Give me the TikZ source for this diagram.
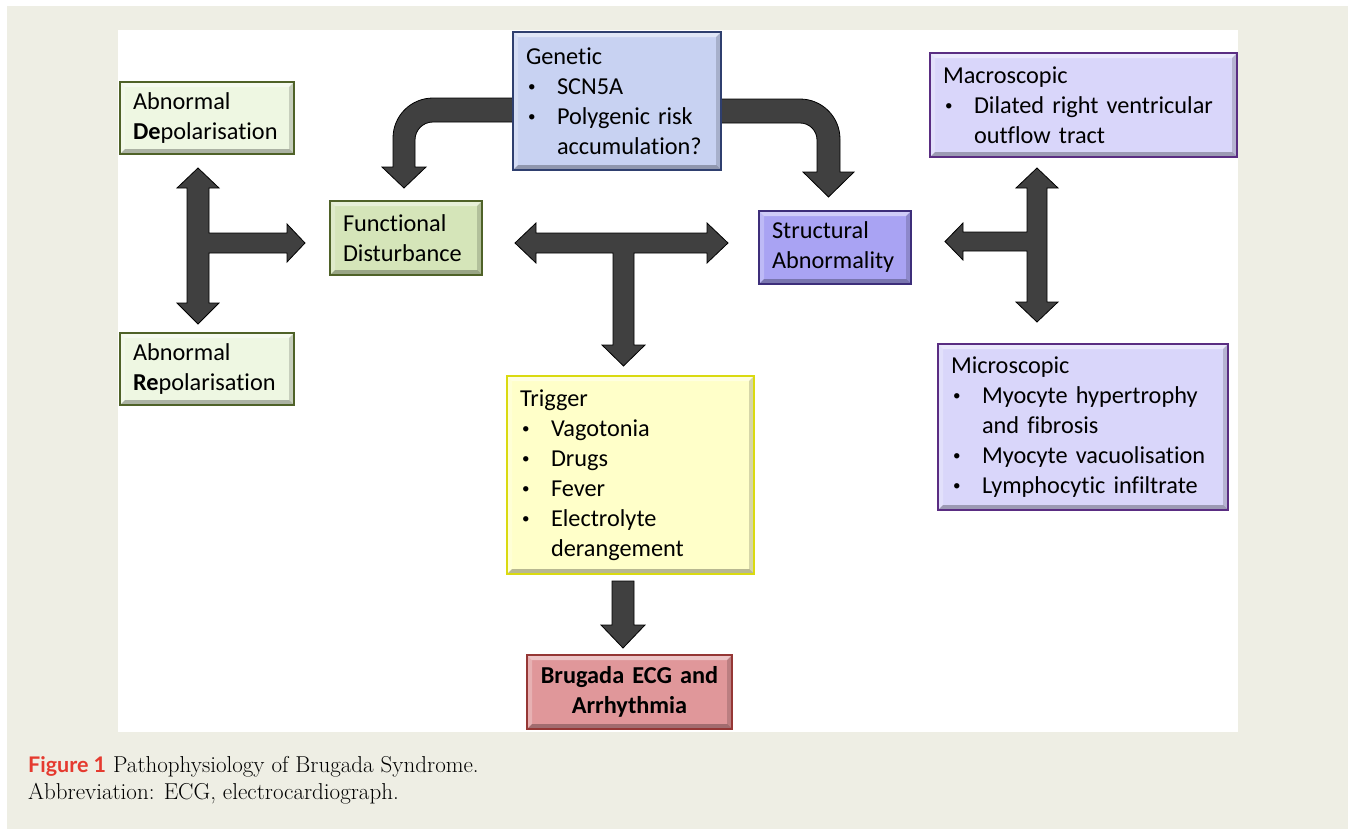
\documentclass[tikz,border=0pt]{standalone}
\usepackage{fontspec}
\newfontfamily\boxfont{Carlito}[Ligatures={NoCommon}]
\newfontfamily\figfont{Lato}
\usetikzlibrary{calc}
\definecolor{bgbeige}{HTML}{EEEEE4}
\definecolor{arrowgray}{HTML}{404040}
\definecolor{greenlt}{HTML}{EEF7E2}
\definecolor{greenmd}{HTML}{D5E5B9}
\definecolor{greenbd}{HTML}{4F6228}
\definecolor{bluelt}{HTML}{C8D2F2}
\definecolor{bluebd}{HTML}{2F3F6F}
\definecolor{purpmd}{HTML}{A9A3F3}
\definecolor{purpbd}{HTML}{3D2E7A}
\definecolor{purplt}{HTML}{D9D6FA}
\definecolor{purpbd2}{HTML}{5A2D82}
\definecolor{yellt}{HTML}{FFFFC9}
\definecolor{yelbd}{HTML}{DADA10}
\definecolor{redmd}{HTML}{E0979A}
\definecolor{redbd}{HTML}{953735}
\definecolor{figred}{HTML}{E53A2F}
\newcommand\smbul{\raisebox{3.2pt}{\scalebox{0.62}{•}}}
\newcommand\bitem[1]{\makebox[31pt][l]{\hspace{2pt}\smbul}#1}
\newcommand\bcont[1]{\hspace*{31pt}#1}
\tikzset{
  bevel/.style={path picture={
    \fill[white,opacity=.45] (path picture bounding box.north west) -- (path picture bounding box.north east)
      -- ([shift={(-5pt,-5pt)}]path picture bounding box.north east) -- ([shift={(5pt,-5pt)}]path picture bounding box.north west) -- cycle;
    \fill[white,opacity=.25] (path picture bounding box.north west) -- (path picture bounding box.south west)
      -- ([shift={(5pt,5pt)}]path picture bounding box.south west) -- ([shift={(5pt,-5pt)}]path picture bounding box.north west) -- cycle;
    \fill[black,opacity=.28] (path picture bounding box.south west) -- (path picture bounding box.south east)
      -- ([shift={(-5pt,5pt)}]path picture bounding box.south east) -- ([shift={(5pt,5pt)}]path picture bounding box.south west) -- cycle;
    \fill[black,opacity=.16] (path picture bounding box.north east) -- (path picture bounding box.south east)
      -- ([shift={(-5pt,5pt)}]path picture bounding box.south east) -- ([shift={(-5pt,-5pt)}]path picture bounding box.north east) -- cycle;
  }},
  cbox/.style={rectangle, line width=1.6pt, inner xsep=13pt, inner ysep=0pt, align=left,
    font=\boxfont\fontsize{24.3}{30}\selectfont, bevel},
  blk/.style={fill=arrowgray, draw=black, line width=0.8pt, line join=miter},
}
\begin{document}
\begin{tikzpicture}[x=1pt,y=-1pt]
\useasboundingbox (0,0) rectangle (1354,835);
\fill[white] (0,0) rectangle (1354,835);
\fill[bgbeige] (7,6) rectangle (1348,829);
\fill[white] (118,30) rectangle (1238,732);

% block arrows
\path[blk] (513,98) -- (433,98) .. controls (410.9,98) and (393,115.9) .. (393,138) -- (393,167) -- (382,167)
  -- (404,188) -- (426,167) -- (415,167) -- (415,140) .. controls (415,130.1) and (422.9,122) .. (433,122) -- (513,122) -- cycle;
\path[blk] (721,99) -- (800,99) .. controls (822.1,99) and (840,116.9) .. (840,139) -- (840,172) -- (854,172)
  -- (828.5,197) -- (803,172) -- (817,172) -- (817,140) .. controls (817,130.6) and (809.4,123) .. (800,123) -- (721,123) -- cycle;
\path[blk] (198,168) -- (219,188) -- (209,188) -- (209,233) -- (287,233) -- (287,224) -- (305,243) -- (287,262)
  -- (287,253) -- (209,253) -- (209,303) -- (219,303) -- (198,324) -- (177,303) -- (187,303) -- (187,188) -- (177,188) -- cycle;
\path[blk] (515,243) -- (536,223) -- (536,233) -- (707,233) -- (707,223) -- (728,243) -- (707,263) -- (707,253)
  -- (634,253) -- (634,345) -- (645,345) -- (623.5,366) -- (602,345) -- (613,345) -- (613,253) -- (536,253) -- (536,263) -- cycle;
\path[blk] (1037,168) -- (1058,188) -- (1047,188) -- (1047,302) -- (1058,302) -- (1037,322) -- (1016,302) -- (1027,302)
  -- (1027,251) -- (963,251) -- (963,260) -- (945,241.5) -- (963,223) -- (963,232) -- (1027,232) -- (1027,188) -- (1016,188) -- cycle;
\path[blk] (612,581) -- (634,581) -- (634,625) -- (645,625) -- (623,648) -- (601,625) -- (612,625) -- cycle;

% boxes
\node[cbox, fill=greenlt, draw=greenbd, minimum width=174pt, minimum height=72pt, text width=148pt] (dep) at (207,118)
  {Abnormal\\\textbf{De}polarisation};
\node[cbox, fill=greenlt, draw=greenbd, minimum width=174pt, minimum height=72pt, text width=148pt] (rep) at (207,369)
  {Abnormal\\\textbf{Re}polarisation};
\node[cbox, fill=greenmd, draw=greenbd, minimum width=152pt, minimum height=74pt, text width=126pt] (fun) at (406,238)
  {Functional\\Disturbance};
\node[cbox, fill=bluelt, draw=bluebd, minimum width=208pt, minimum height=138pt, text width=182pt] (gen) at (617,101)
  {Genetic\\\bitem{SCN5A}\\\bitem{Polygenic risk}\\\bcont{accumulation?}};
\node[cbox, fill=purpmd, draw=purpbd, minimum width=152pt, minimum height=73pt, text width=126pt] (str) at (835,247.5)
  {Structural\\Abnormality};
\node[cbox, fill=purplt, draw=purpbd2, minimum width=307pt, minimum height=104pt, text width=281pt] (mac) at (1083.5,105)
  {Macroscopic\\\bitem{Dilated right ventricular}\\\bcont{outflow tract}};
\node[cbox, fill=purplt, draw=purpbd2, minimum width=290pt, minimum height=166pt, text width=264pt] (mic) at (1083,427)
  {Microscopic\\\bitem{Myocyte hypertrophy}\\\bcont{and fibrosis}\\\bitem{Myocyte vacuolisation}\\\bitem{Lymphocytic infiltrate}};
\node[cbox, fill=yellt, draw=yelbd, minimum width=247pt, minimum height=198pt, text width=221pt, inner xsep=12pt] (trg) at (630.5,475)
  {Trigger\\\bitem{Vagotonia}\\\bitem{Drugs}\\\bitem{Fever}\\\bitem{Electrolyte}\\\bcont{derangement}};
\node[cbox, fill=redmd, draw=redbd, minimum width=205pt, minimum height=74pt, text width=179pt, align=center, font=\boxfont\fontsize{24.3}{30}\selectfont\bfseries] (bru) at (629.5,692)
  {Brugada ECG and\\Arrhythmia};

% caption
\node[anchor=base west, inner sep=0pt, font=\fontsize{23}{27}\selectfont] (cap1) at (28,772)
  {{\figfont\bfseries\fontsize{21.5}{27}\selectfont\color{figred}Figure 1} Pathophysiology of Brugada Syndrome.};
\node[anchor=base west, inner sep=0pt, font=\fontsize{23}{27}\selectfont] (cap2) at (28,799)
  {Abbreviation: ECG, electrocardiograph.};
\end{tikzpicture}
\end{document}
